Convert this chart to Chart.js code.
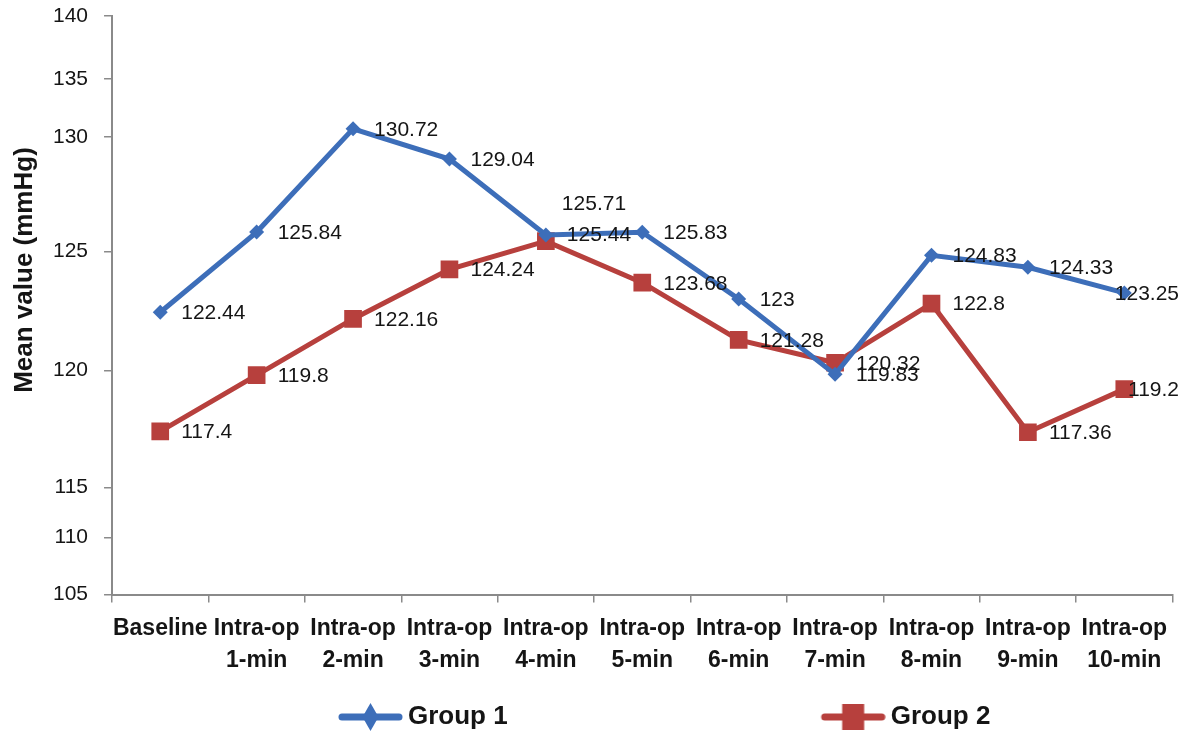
<!DOCTYPE html>
<html>
<head>
<meta charset="utf-8">
<script src="https://cdn.jsdelivr.net/npm/chart.js@4/dist/chart.umd.min.js"></script>
<style>
  html, body { margin: 0; padding: 0; background: #ffffff; }
  #wrap { width: 1185px; height: 734px; position: relative; }
</style>
</head>
<body>
<div id="wrap"><canvas id="chart"></canvas></div>
<script>
// ---- data ----
const categories = [
  'Baseline',
  ['Intra-op', '1-min'], ['Intra-op', '2-min'], ['Intra-op', '3-min'],
  ['Intra-op', '4-min'], ['Intra-op', '5-min'], ['Intra-op', '6-min'],
  ['Intra-op', '7-min'], ['Intra-op', '8-min'], ['Intra-op', '9-min'],
  ['Intra-op', '10-min']
];
const seriesNames = ['Group 1', 'Group 2'];
const group1 = [122.44, 125.84, 130.72, 129.04, 125.71, 125.83, 123, 119.83, 124.83, 124.33, 123.25];
const group2 = [117.4, 119.8, 122.16, 124.24, 125.44, 123.68, 121.28, 120.32, 122.8, 117.36, 119.2];
const yTickValues = [105, 110, 115, 120, 125, 130, 135, 140];
const yTitle = 'Mean value (mmHg)';

// ---- axis layout: the original value axis is unevenly spaced ----
const yTickFractions = [0, 0.0986, 0.1851, 0.3875, 0.5934, 0.7907, 0.8910, 1];

function valueToFraction(v) {
  const t = yTickValues, f = yTickFractions;
  let i = 0;
  if (v <= t[0]) i = 0;
  else if (v >= t[t.length - 1]) i = t.length - 2;
  else { while (i < t.length - 2 && v > t[i + 1]) i++; }
  return f[i] + (v - t[i]) / (t[i + 1] - t[i]) * (f[i + 1] - f[i]);
}
function fractionToValue(d) {
  const t = yTickValues, f = yTickFractions;
  let i = 0;
  if (d <= f[0]) i = 0;
  else if (d >= f[f.length - 1]) i = f.length - 2;
  else { while (i < f.length - 2 && d > f[i + 1]) i++; }
  return t[i] + (d - f[i]) / (f[i + 1] - f[i]) * (t[i + 1] - t[i]);
}

class BrokenLinearScale extends Chart.LinearScale {
  getPixelForValue(value) {
    if (value === null || value === undefined || isNaN(value)) return NaN;
    return this.getPixelForDecimal(valueToFraction(value));
  }
  getValueForPixel(pixel) {
    return fractionToValue(this.getDecimalForPixel(pixel));
  }
}
BrokenLinearScale.id = 'brokenLinear';
BrokenLinearScale.defaults = Chart.LinearScale.defaults;
Chart.register(BrokenLinearScale);

// ---- styles ----
const BLUE = '#3D6EB9';
const RED = '#B7403D';
const AXIS = '#8a8a8a';
const TEXT = '#151515';

// legend symbol (line + marker) as an image
const LEG_BOX = 360, LEG_PAD = 10, LEG_SYM = 65, LEG_START = 338;
function legendSymbol(color, kind) {
  const W = LEG_BOX + 16, H = 32;
  const c = document.createElement('canvas');
  c.width = W; c.height = H;
  const g = c.getContext('2d');
  const x0 = W - LEG_SYM, cy = H / 2, cx = x0 + LEG_SYM / 2;
  g.strokeStyle = color; g.lineWidth = 7; g.lineCap = 'round';
  g.beginPath(); g.moveTo(x0 + 4, cy); g.lineTo(W - 4, cy); g.stroke();
  g.fillStyle = color;
  g.beginPath();
  if (kind === 'diamond') {
    g.moveTo(cx, cy - 14); g.lineTo(cx + 8, cy); g.lineTo(cx, cy + 14); g.lineTo(cx - 8, cy);
    g.closePath();
  } else {
    g.rect(cx - 11, cy - 13, 22, 26);
  }
  g.fill();
  return c;
}
const legendImgs = [legendSymbol(BLUE, 'diamond'), legendSymbol(RED, 'square')];

// data label placement tweaks (offsets from the point, in px)
const labelShift = { '0-4': [-5, -32], '1-4': [0, -7] };

const dataLabels = {
  id: 'dataLabels',
  afterDatasetsDraw(chart) {
    const ctx = chart.ctx;
    ctx.save();
    ctx.font = '21px "Liberation Sans", Arial, sans-serif';
    ctx.fillStyle = TEXT;
    ctx.textAlign = 'left';
    ctx.textBaseline = 'middle';
    chart.data.datasets.forEach((ds, di) => {
      const meta = chart.getDatasetMeta(di);
      meta.data.forEach((pt, i) => {
        const txt = String(ds.data[i]);
        const sh = labelShift[di + '-' + i] || [0, 0];
        let x = pt.x + 21 + sh[0];
        const y = pt.y + 1 + sh[1];
        const w = ctx.measureText(txt).width;
        if (x + w > chart.width - 6) x = chart.width - 6 - w;
        ctx.fillText(txt, x, y);
      });
    });
    ctx.restore();
  }
};

const yAxisTitle = {
  id: 'yAxisTitle',
  afterDraw(chart) {
    const ctx = chart.ctx;
    ctx.save();
    ctx.translate(25, 270);
    ctx.rotate(-Math.PI / 2);
    ctx.font = 'bold 26px "Liberation Sans", Arial, sans-serif';
    ctx.fillStyle = TEXT;
    ctx.textAlign = 'center';
    ctx.textBaseline = 'middle';
    ctx.fillText(yTitle, 0, 0);
    ctx.restore();
  }
};

const legendPlace = {
  id: 'legendPlace',
  afterLayout(chart) {
    const lg = chart.legend;
    if (!lg) return;
    const targetLeft = LEG_START + 57 - LEG_BOX - LEG_PAD;
    const dx = targetLeft - lg.left;
    lg.left += dx; lg.right += dx;
    lg.top += 7; lg.bottom += 7;
  }
};

new Chart(document.getElementById('chart'), {
  type: 'line',
  data: {
    labels: categories,
    datasets: [
      {
        label: seriesNames[0],
        data: group1,
        borderColor: BLUE,
        backgroundColor: BLUE,
        borderWidth: 5,
        pointStyle: 'rectRot',
        pointRadius: 7.5,
        pointBorderWidth: 0,
        pointBackgroundColor: BLUE,
        tension: 0
      },
      {
        label: seriesNames[1],
        data: group2,
        borderColor: RED,
        backgroundColor: RED,
        borderWidth: 5,
        pointStyle: 'rect',
        pointRadius: 12.5,
        pointBorderWidth: 0,
        pointBackgroundColor: RED,
        tension: 0
      }
    ]
  },
  options: {
    responsive: true,
    maintainAspectRatio: false,
    animation: false,
    layout: { padding: { left: 37, right: 2, top: 4, bottom: 1 } },
    scales: {
      x: {
        type: 'category',
        offset: true,
        grid: { offset: true, drawOnChartArea: false, drawTicks: true, tickLength: 8, color: AXIS, tickColor: AXIS, lineWidth: 1.5 },
        border: { display: true, color: AXIS, width: 2 },
        ticks: {
          autoSkip: false, maxRotation: 0, padding: 10, color: TEXT,
          font: { family: '"Liberation Sans", Arial, sans-serif', size: 23, weight: 'bold', lineHeight: 1.4 }
        }
      },
      y: {
        type: 'brokenLinear',
        min: 105, max: 140,
        afterBuildTicks(scale) { scale.ticks = yTickValues.map(v => ({ value: v })); },
        afterFit(scale) { scale.paddingTop = 16; },
        grid: { drawOnChartArea: false, drawTicks: true, tickLength: 8, color: AXIS, tickColor: AXIS, lineWidth: 1.5 },
        border: { display: true, color: AXIS, width: 2 },
        ticks: {
          padding: 16, color: TEXT,
          font: { family: '"Liberation Sans", Arial, sans-serif', size: 21 }
        }
      }
    },
    plugins: {
      tooltip: { enabled: false },
      legend: {
        display: true,
        position: 'bottom',
        align: 'start',
        labels: {
          usePointStyle: true,
          pointStyleWidth: LEG_BOX,
          padding: LEG_PAD,
          color: TEXT,
          font: { family: '"Liberation Sans", Arial, sans-serif', size: 26, weight: 'bold' },
          generateLabels(chart) {
            return chart.data.datasets.map((ds, i) => ({
              text: ds.label,
              pointStyle: legendImgs[i],
              fillStyle: ds.borderColor,
              strokeStyle: ds.borderColor,
              lineWidth: 0,
              hidden: false,
              datasetIndex: i,
              fontColor: TEXT
            }));
          }
        }
      }
    }
  },
  plugins: [dataLabels, yAxisTitle, legendPlace]
});
</script>
</body>
</html>
